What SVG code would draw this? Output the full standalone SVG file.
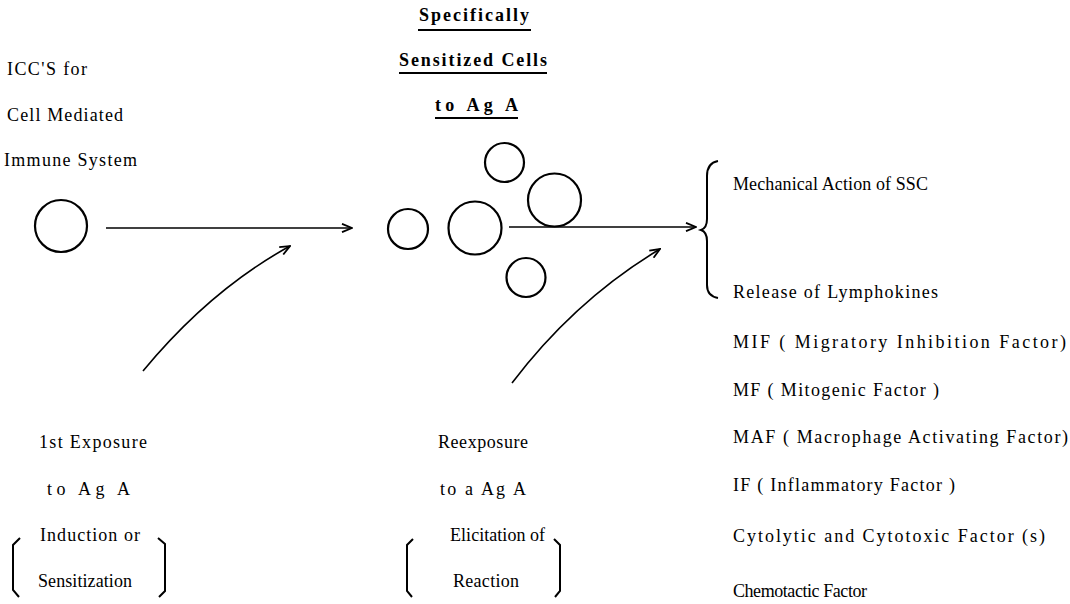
<svg xmlns="http://www.w3.org/2000/svg" width="1070" height="604" viewBox="0 0 1070 604">
<defs>
<marker id="arr" viewBox="0 0 12 10" refX="11" refY="5" markerWidth="12" markerHeight="10" markerUnits="userSpaceOnUse" orient="auto">
<path d="M1 0.8 L11 5 L1 9.2" fill="none" stroke="#000" stroke-width="1.8"/>
</marker>
</defs>
<style>
text{font-family:"Liberation Serif","Times New Roman",serif;font-size:18px;fill:#000}
.b{font-weight:bold}
.cell{fill:none;stroke:#000;stroke-width:2.2}
.ln{fill:none;stroke:#000;stroke-width:1.6}
.br{fill:none;stroke:#000;stroke-width:2}
.ul{stroke:#000;stroke-width:2}
</style>
<rect width="1070" height="604" fill="#fff"/>

<g id="label-icc">
<text x="7" y="75" textLength="80" lengthAdjust="spacing">ICC'S for</text>
<text x="7" y="121" textLength="116" lengthAdjust="spacing">Cell Mediated</text>
<text x="4" y="166" textLength="133" lengthAdjust="spacing">Immune System</text>
</g>

<g id="cell-icc">
<circle class="cell" cx="61" cy="226" r="26"/>
</g>

<g id="title-ssc">
<text class="b" x="419" y="21" textLength="110" lengthAdjust="spacing">Specifically</text>
<line class="ul" x1="418" y1="30" x2="531" y2="30"/>
<text class="b" x="399" y="66" textLength="148" lengthAdjust="spacing">Sensitized Cells</text>
<line class="ul" x1="399" y1="73" x2="547" y2="73"/>
<text class="b" x="435" y="111" textLength="83" lengthAdjust="spacing">to Ag A</text>
<line class="ul" x1="435" y1="118" x2="518" y2="118"/>
</g>

<g id="cells-ssc">
<circle class="cell" cx="408" cy="229" r="20"/>
<circle class="cell" cx="475" cy="228" r="26.5"/>
<circle class="cell" cx="504.5" cy="162.5" r="19.5"/>
<circle class="cell" cx="554.5" cy="200" r="26.5"/>
<circle class="cell" cx="526" cy="277.5" r="19.5"/>
</g>

<g id="effects">
<path class="br" d="M718 161 Q707 163 707 176 L707 219 Q707 228 701 230 Q707 232 707 241 L707 285 Q707 296 718 298"/>
<text x="733" y="190" textLength="195" lengthAdjust="spacing">Mechanical Action of SSC</text>
<text x="733" y="298" textLength="205" lengthAdjust="spacing">Release of Lymphokines</text>
</g>

<g id="lymphokines">
<text x="733" y="348" textLength="333" lengthAdjust="spacing">MIF ( Migratory Inhibition Factor)</text>
<text x="733" y="396" textLength="206" lengthAdjust="spacing">MF ( Mitogenic Factor )</text>
<text x="733" y="443" textLength="335" lengthAdjust="spacing">MAF ( Macrophage Activating Factor)</text>
<text x="733" y="491" textLength="222" lengthAdjust="spacing">IF ( Inflammatory Factor )</text>
<text x="733" y="542" textLength="312" lengthAdjust="spacing">Cytolytic and Cytotoxic Factor (s)</text>
<text x="733" y="597" textLength="134" lengthAdjust="spacing">Chemotactic Factor</text>
</g>

<g id="label-first-exposure">
<text x="39" y="448" textLength="108" lengthAdjust="spacing">1st Exposure</text>
<text x="47" y="495" textLength="83" lengthAdjust="spacing">to Ag  A</text>
<path class="br" d="M20 538 L13 545 L13 590 L19 597"/>
<text x="40" y="541" textLength="100" lengthAdjust="spacing">Induction or</text>
<text x="38" y="587" textLength="94" lengthAdjust="spacing">Sensitization</text>
<path class="br" d="M158 538 L165 544 L165 591 L159 597"/>
</g>

<g id="label-reexposure">
<text x="438" y="448" textLength="90" lengthAdjust="spacing">Reexposure</text>
<text x="440" y="495" textLength="86" lengthAdjust="spacing">to a Ag A</text>
<path class="br" d="M413 539 L407 545 L407 591 L412 597"/>
<text x="450" y="541" textLength="95" lengthAdjust="spacing">Elicitation of</text>
<text x="453" y="587" textLength="66" lengthAdjust="spacing">Reaction</text>
<path class="br" d="M554 539 L560 545 L560 591 L555 597"/>
</g>

<g id="connectors">
<line class="ln" x1="106" y1="228" x2="352" y2="228" marker-end="url(#arr)"/>
<line class="ln" x1="509" y1="227" x2="696" y2="227" marker-end="url(#arr)"/>
<path class="ln" d="M143 371 Q210 290 290 246" marker-end="url(#arr)"/>
<path class="ln" d="M512 383 Q575 300 660 249" marker-end="url(#arr)"/>
</g>
</svg>
